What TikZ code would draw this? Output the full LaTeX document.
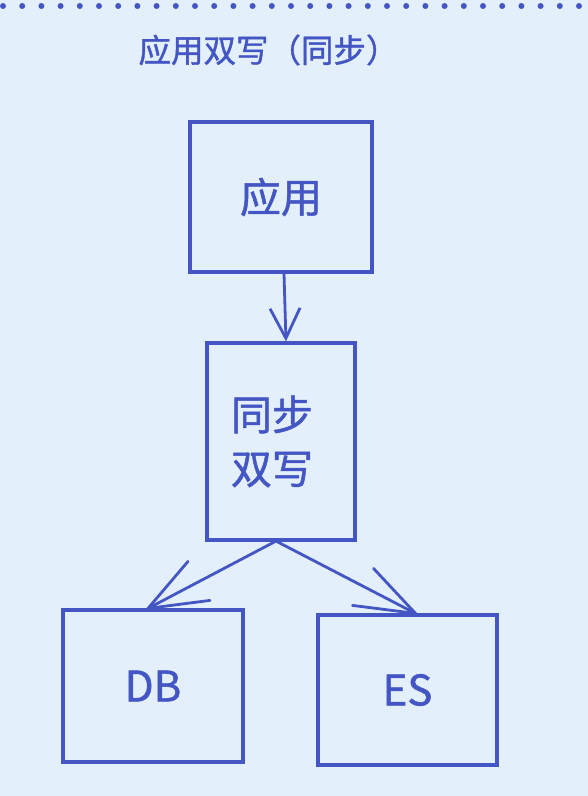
\documentclass[tikz,border=0pt]{standalone}
\usepackage{fontspec}
\newfontfamily\cjk[FakeBold=1.2]{Noto Sans CJK SC}
\usetikzlibrary{arrows.meta}
\definecolor{bgblue}{HTML}{E3F0FC}
\definecolor{ink}{HTML}{4455C4}
\tikzset{
  box/.style={draw=ink, line width=3.2pt, inner sep=0pt, font=\cjk\fontsize{41}{56}\selectfont, text=ink},
  link/.style={draw=ink, line width=2.8pt, line cap=round},
  tiplink/.style={link, -{Straight Barb[length=30pt,width=30pt,line width=2.8pt]}},
}
\begin{document}
\begin{tikzpicture}[x=1pt,y=-1pt]
  \fill[bgblue] (0,0) rectangle (588,796);
  \useasboundingbox (0,0) rectangle (588,796);
  % dotted border along the top
  \draw[ink, line width=6pt, line cap=round, dash pattern=on 0pt off 19.2pt] (3,6) -- (590,6);
  % title
  \node[text=ink, font=\cjk\fontsize{32.5}{38}\selectfont, anchor=west] (title) at (135,50) {应用双写（同步）};
  % boxes
  \node[box, minimum width=182pt, minimum height=150pt] (app) at (281,197) {应用};
  \node[box, minimum width=148pt, minimum height=197pt, align=left] (sync) at (281,441.5) {\hspace*{-18pt}同步\\[-2pt]\hspace*{-18pt}双写};
  \node[box, minimum width=180pt, minimum height=152pt, font=\cjk\fontsize{42}{50}\selectfont] (db) at (153,686) {DB};
  \node[box, minimum width=179pt, minimum height=150pt, font=\cjk\fontsize{42}{50}\selectfont] (es) at (407.5,690) {ES};
  % connectors
  \draw[tiplink] ([xshift=3pt]app.south) -- ([xshift=5pt]sync.north);
  \coordinate (dbtip) at ([xshift=-5pt]db.north);
  \coordinate (estip) at ([xshift=8pt]es.north);
  \draw[link] ([xshift=-6pt]sync.south) -- (dbtip);
  \draw[link] ([xshift=-4pt]sync.south) -- (estip);
  % hand-drawn open arrowheads
  \draw[link] (dbtip) -- ++(40,-47);
  \draw[link] (dbtip) -- ++(62,-8);
  \draw[link] (estip) -- ++(-42,-45);
  \draw[link] (estip) -- ++(-63,-8);
\end{tikzpicture}
\end{document}
